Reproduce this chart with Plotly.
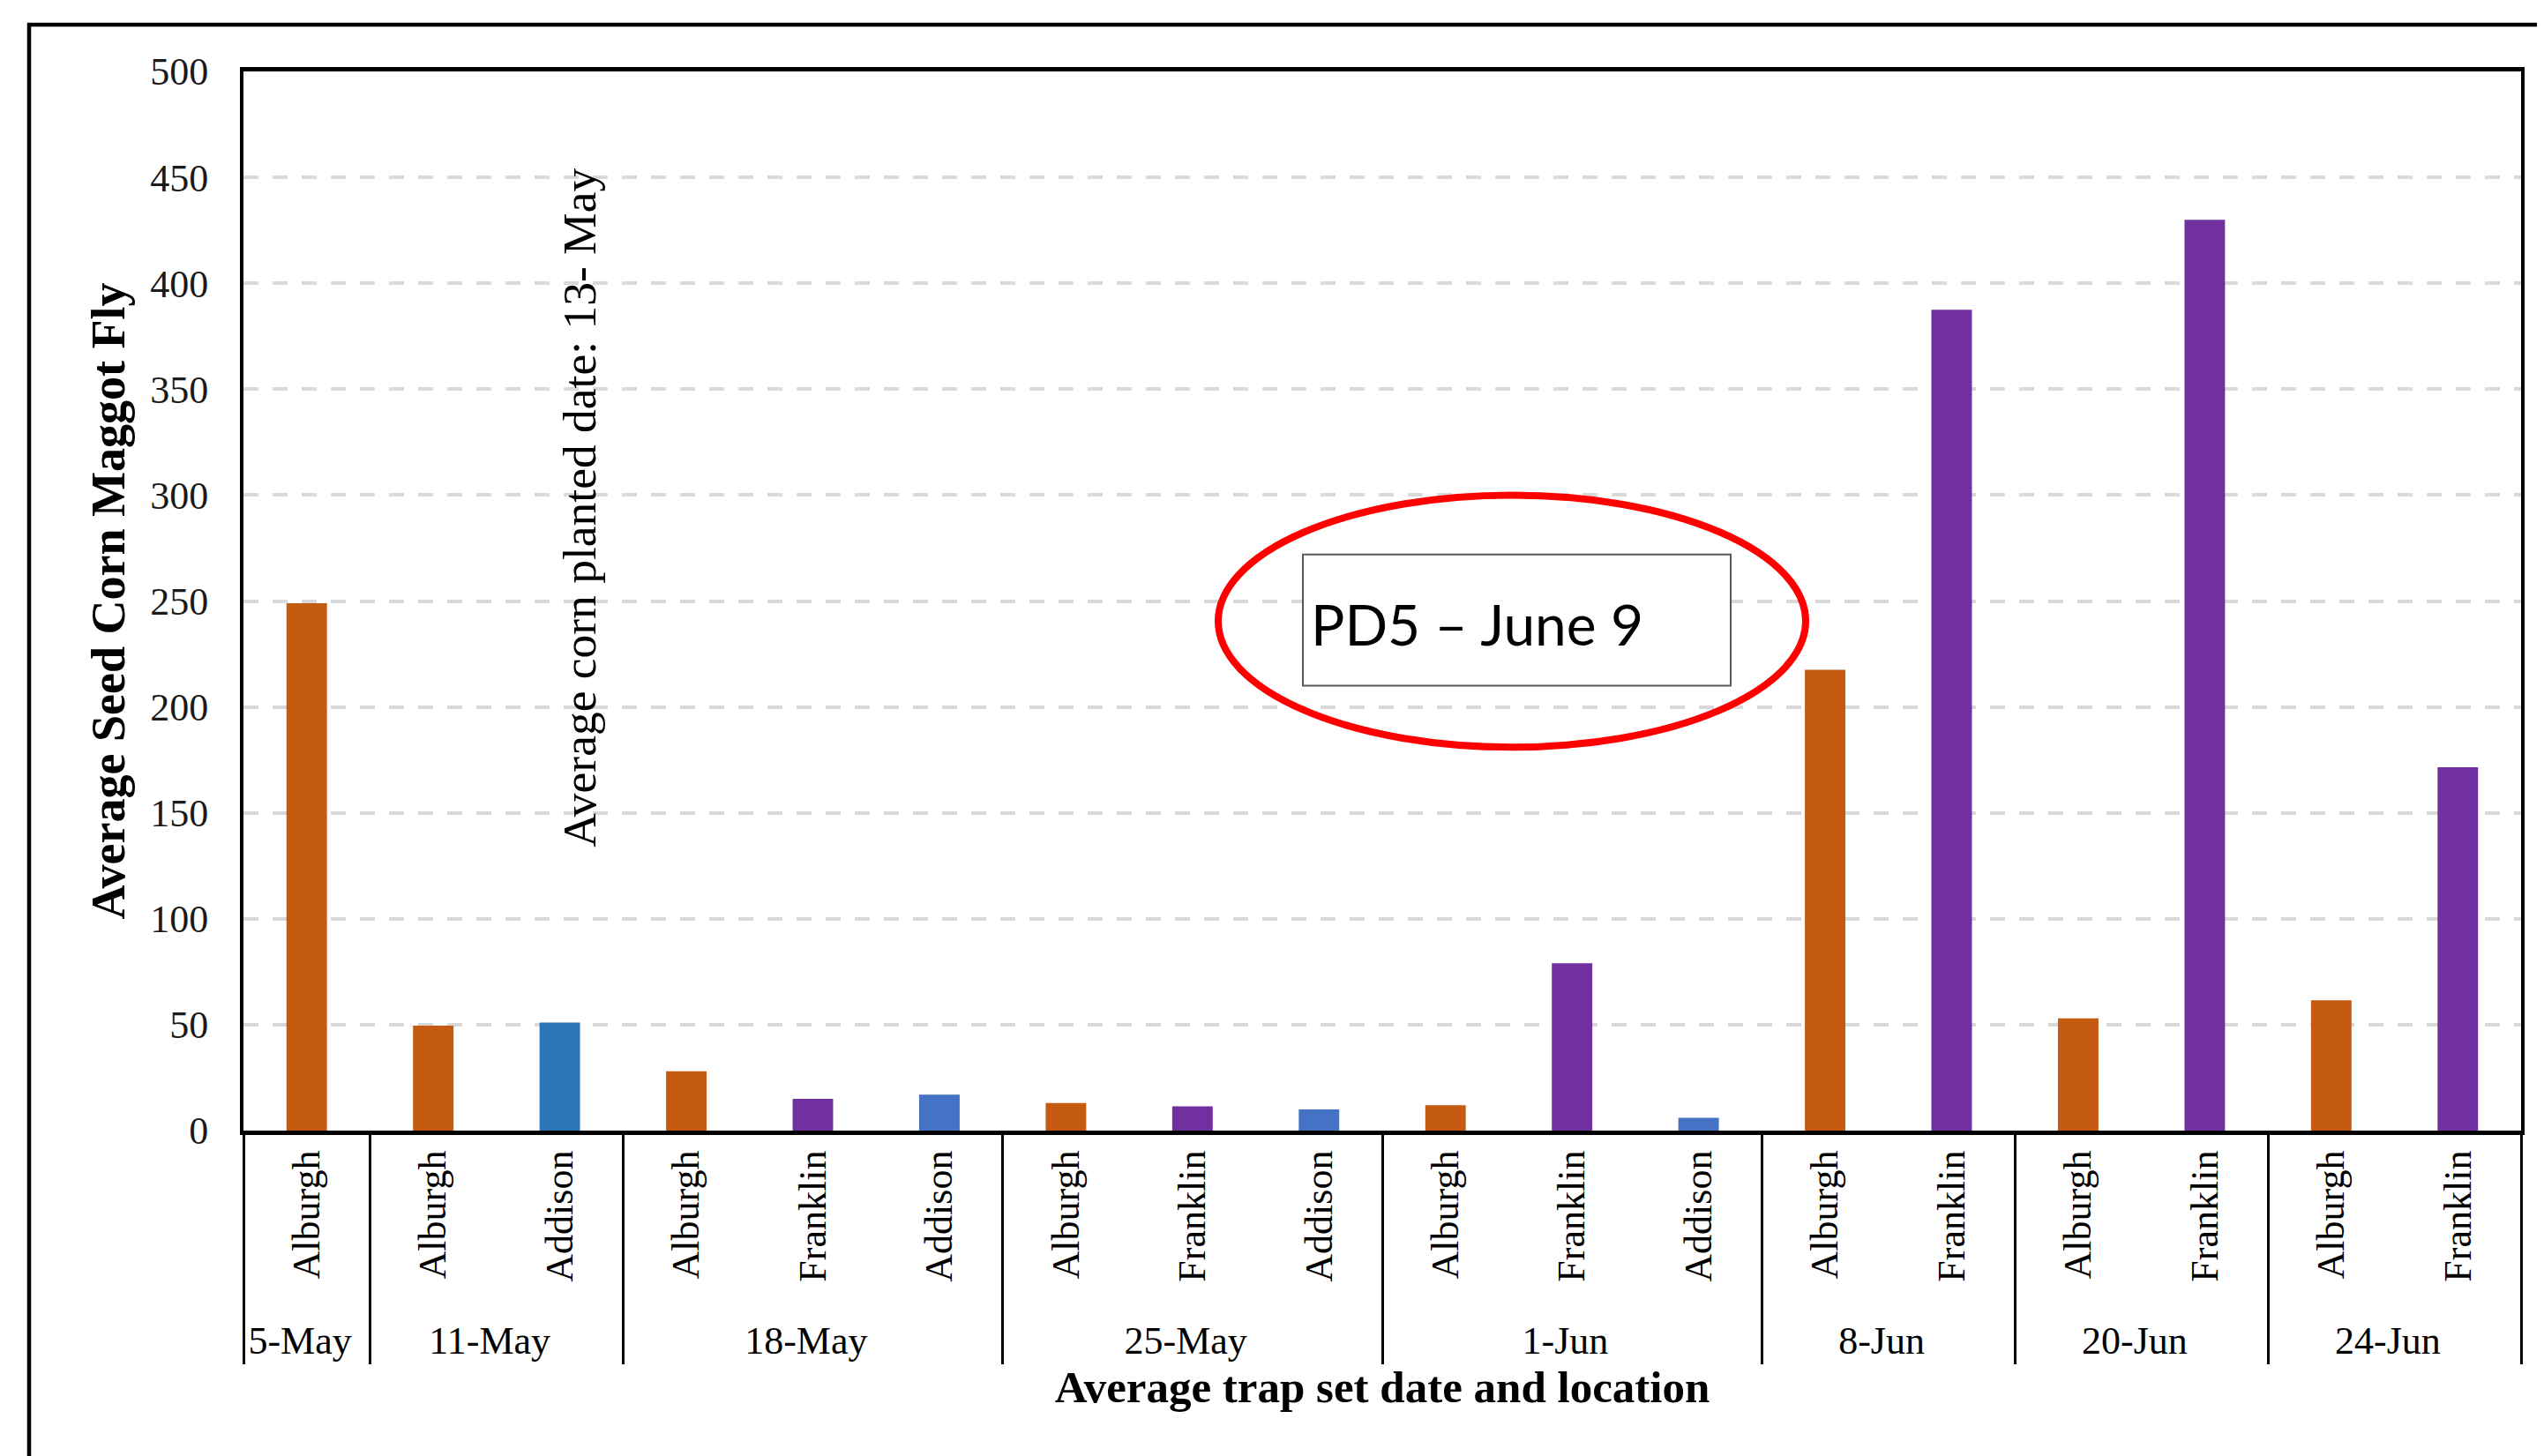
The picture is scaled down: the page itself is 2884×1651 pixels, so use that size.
import plotly.graph_objects as go

# ---- data ----
dates = ["5-May", "11-May", "11-May", "18-May", "18-May", "18-May",
         "25-May", "25-May", "25-May", "1-Jun", "1-Jun", "1-Jun",
         "8-Jun", "8-Jun", "20-Jun", "20-Jun", "24-Jun", "24-Jun"]
locations = ["Alburgh", "Alburgh", "Addison", "Alburgh", "Franklin", "Addison",
             "Alburgh", "Franklin", "Addison", "Alburgh", "Franklin", "Addison",
             "Alburgh", "Franklin", "Alburgh", "Franklin", "Alburgh", "Franklin"]
flies = [249, 49.5, 51, 28, 15, 17,
         13, 11.5, 10, 12, 79, 6,
         217.5, 387.5, 53, 430, 61.5, 171.5]
location_order = ["Alburgh", "Franklin", "Addison"]
y_ticks = [0, 50, 100, 150, 200, 250, 300, 350, 400, 450, 500]

# ---- styling ----
W, H = 2884, 1651
OFF = 8                      # page body margin of the html page
L, R, T, B = 276 - OFF, 34, 81 - OFF, 377
SERIF = "Liberation Serif"
loc_colors = {"Alburgh": "#C55A11", "Franklin": "#7030A0", "Addison": "#4472C4"}
first_addison_color = "#2E75B6"

fig = go.Figure()
for loc in location_order:
    idx = [i for i, l in enumerate(locations) if l == loc]
    cols = [loc_colors[loc]] * len(idx)
    if loc == "Addison":
        cols[0] = first_addison_color
    fig.add_trace(go.Bar(
        x=[[dates[i] for i in idx], [locations[i] for i in idx]],
        y=[flies[i] for i in idx],
        marker=dict(color=cols, line=dict(width=0)),
        width=0.32, showlegend=False, name=loc,
    ))

pw = W - L - R
ph = H - T - B
def px_x(p):   # screen pixel -> paper
    return (p - OFF - L) / pw
def px_y(p):
    return (H - B - (p - OFF)) / ph

shapes = [
    # outer frame
    dict(type="rect", xref="paper", yref="paper",
         x0=px_x(33), x1=px_x(W + 30), y0=px_y(H + 30), y1=px_y(28),
         line=dict(color="black", width=4.5), fillcolor="rgba(0,0,0,0)", layer="above"),
    # white text box behind the planting-date note (covers gridlines)
    dict(type="rect", xref="paper", yref="y",
         x0=px_x(603), x1=px_x(796), y0=128, y1=460,
         line=dict(width=0), fillcolor="white", layer="between"),
    # red ellipse
    dict(type="circle", xref="paper", yref="y",
         x0=px_x(1381), x1=px_x(2047), y0=181, y1=300,
         line=dict(color="#FF0000", width=8), fillcolor="rgba(0,0,0,0)", layer="above"),
    # PD5 box
    dict(type="rect", xref="paper", yref="y",
         x0=px_x(1477), x1=px_x(1962), y0=210, y1=272,
         line=dict(color="#595959", width=2), fillcolor="white", layer="above"),
]

annotations = [
    dict(text="Average corn planted date: 13- May", textangle=-90,
         xref="paper", yref="y", x=px_x(657), y=294,
         showarrow=False, xanchor="center", yanchor="middle",
         font=dict(family=SERIF, size=53.5, color="black")),
    dict(text="PD5 \u2013 June 9", xref="paper", yref="y",
         x=px_x(1484), y=239, showarrow=False, xanchor="left", yanchor="middle",
         font=dict(family="Lato", size=64, color="black")),
]

fig.update_layout(
    width=W, height=H,
    margin=dict(l=L, r=R, t=T, b=B),
    paper_bgcolor="white", plot_bgcolor="white",
    barmode="overlay", bargap=0.68,
    shapes=shapes, annotations=annotations,
    font=dict(family=SERIF, color="black"),
)

fig.update_xaxes(
    type="multicategory",
    tickangle=-90,
    tickfont=dict(family=SERIF, size=44, color="black"),
    showline=True, linecolor="black", linewidth=5, mirror=True,
    ticks="", showgrid=False,
    showdividers=True, dividercolor="black", dividerwidth=3,
    title=dict(text="<b>Average trap set date and location</b>",
               font=dict(family=SERIF, size=51, color="black"), standoff=12),
)

fig.update_yaxes(
    range=[0, 500], tickvals=y_ticks, ticktext=[str(v) for v in y_ticks],
    tickfont=dict(family=SERIF, size=44, color="#1a1a1a"),
    showline=True, linecolor="black", linewidth=4, mirror=True,
    ticks="", zeroline=False, ticklabelstandoff=27,
    showgrid=True, gridcolor="#D9D9D9", gridwidth=3.5, griddash="17px,16px",
    title=dict(text="<b>Average Seed Corn Maggot Fly</b>",
               font=dict(family=SERIF, size=54, color="black"), standoff=12),
)

fig.write_html("out.html")
